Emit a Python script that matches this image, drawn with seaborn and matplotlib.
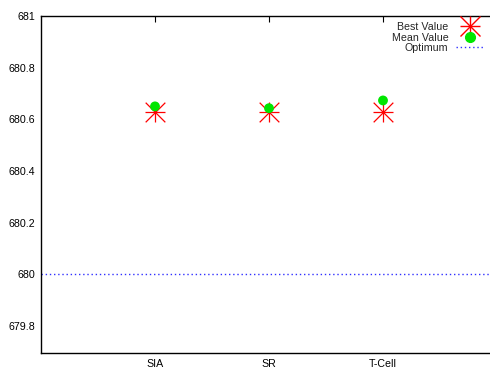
import numpy as np
import pandas as pd
import matplotlib
matplotlib.use("Agg")
import matplotlib.pyplot as plt
from matplotlib.lines import Line2D
import seaborn as sns

algorithms = ["SIA", "SR", "T-Cell"]
best_values = [680.628, 680.628, 680.628]
mean_values = [680.650, 680.643, 680.673]
optimum = 680.0

sns.set_style("white")
plt.rcParams['font.family'] = ['Liberation Sans', 'DejaVu Sans']
plt.rcParams['font.size'] = 7.7

df = pd.DataFrame({"algorithm": algorithms, "best": best_values, "mean": mean_values})

fig = plt.figure(figsize=(4.9, 3.71), dpi=100)
ax = fig.add_axes([41 / 490, 18 / 371, 456 / 490, 337 / 371])

# gnuplot style "*" point = plus + cross
for m in ["+", "x"]:
	sns.scatterplot(data=df, x="algorithm", y="best", ax=ax, marker=m, s=200,
		color="#ff0000", linewidth=0.9, zorder=3, legend=False)
sns.scatterplot(data=df, x="algorithm", y="mean", ax=ax, marker="o", s=50,
	color="#00e600", edgecolor="none", zorder=4, legend=False)
ax.axhline(optimum, color="#3030ff", linestyle=(0, (1, 2)), linewidth=1.0, zorder=2)

ax.set_xlim(-1, 3)
ax.set_ylim(679.695, 681)
ax.set_yticks([679.8, 680, 680.2, 680.4, 680.6, 680.8, 681])
ax.set_yticklabels(["679.8", "680", "680.2", "680.4", "680.6", "680.8", "681"])
ax.set_xlabel("")
ax.set_ylabel("")
ax.tick_params(direction="in", length=4, width=0.8, top=True, right=True,
	labelsize=7.7, colors="black")
ax.tick_params(axis="x", pad=4)
ax.tick_params(axis="y", pad=4.5)
for s in ax.spines.values():
	s.set_linewidth(1.0)
	s.set_color("black")

best_handle = (Line2D([], [], marker="+", color="#ff0000", linestyle="none", markersize=14),
	Line2D([], [], marker="x", color="#ff0000", linestyle="none", markersize=14))
mean_handle = Line2D([], [], marker="o", color="#00e600", linestyle="none", markersize=7)
opt_handle = Line2D([], [], color="#3030ff", linestyle=(0, (1, 2)), linewidth=1.0)
leg = ax.legend([best_handle, mean_handle, opt_handle], ["Best Value", "Mean Value", "Optimum"],
	loc="upper right", bbox_to_anchor=(0.998, 0.955), bbox_transform=fig.transFigure,
	frameon=False, markerfirst=False, handlelength=2.6, handletextpad=0.7,
	labelspacing=0.05, borderpad=0, fontsize=7.7)
for t in leg.get_texts():
	t.set_ha("right")

fig.savefig("out.png", dpi=100)
